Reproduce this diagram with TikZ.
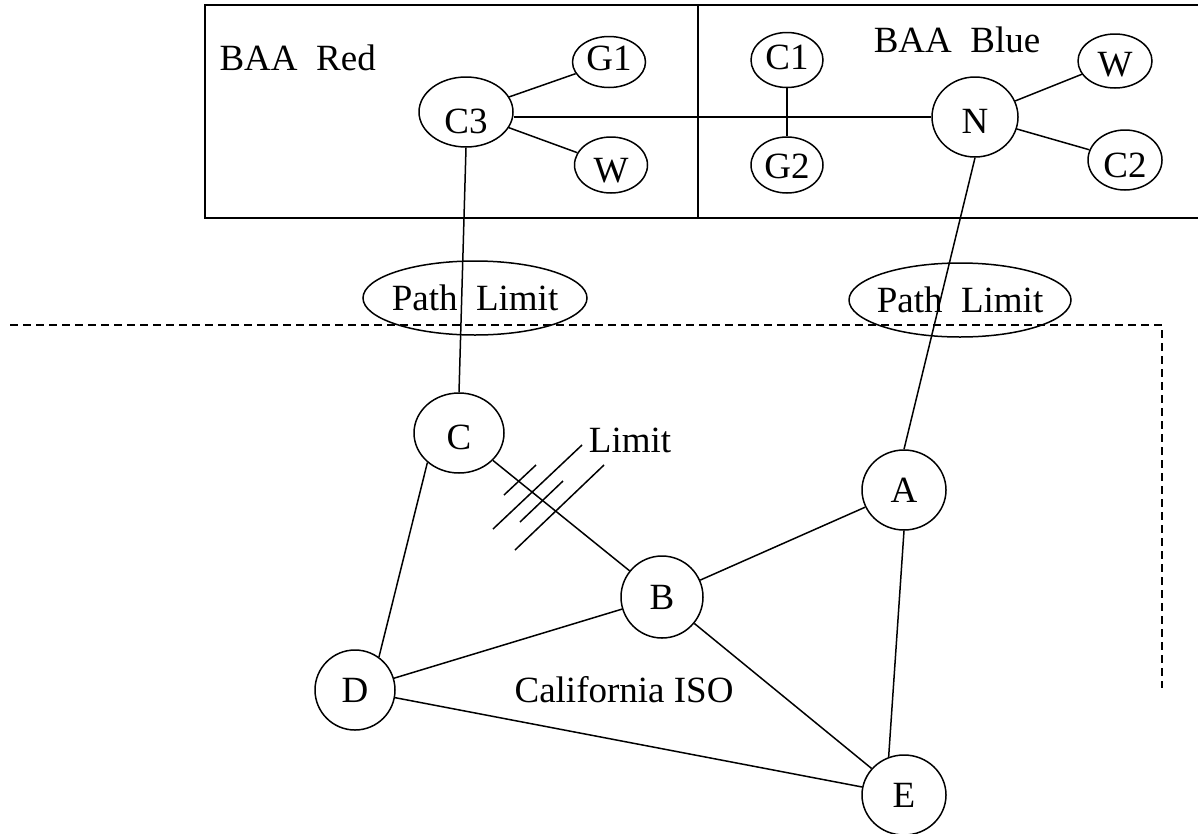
\documentclass[tikz,border=0pt]{standalone}
\usepackage{fontspec}
\setmainfont{Liberation Serif}
\usetikzlibrary{shapes.geometric}
\begin{document}
\begin{tikzpicture}[x=1pt,y=-1pt,
  every node/.style={font=\fontsize{37}{42}\selectfont},
  bus/.style 2 args={ellipse,draw,line width=1.5pt,inner sep=0pt,
    minimum width=#1pt,minimum height=#2pt},
  drop/.style={text height=#1pt,text depth=0pt},
  wire/.style={line width=1.5pt},
  border/.style={dash pattern=on 8pt off 5pt,line width=1.5pt}]
\useasboundingbox (0,0) rectangle (1198,833);

% balancing authority areas
\draw[line width=1.6pt] (205,5) rectangle (1205,218);
\draw[line width=2.2pt] (698,5) -- (698,218);
\node[anchor=west] (red) at (216,58) {BAA\ \ Red};
\node (blue) at (957,40) {BAA\ \ Blue};

% BAA Red buses
\node[bus={94}{70},drop=42.5] (C3) at (466,112) {C3};
\node[bus={73}{51},drop=16.5] (G1) at (609,62) {G1};
\node[bus={73}{56},drop=34.5] (WR) at (611,165) {W};

% BAA Blue buses
\node[bus={72}{55},drop=18.5] (C1) at (787,60) {C1};
\node[bus={72}{56},drop=26.5] (G2) at (787,165) {G2};
\node[bus={86}{80},drop=32.5] (N) at (975,117) {N};
\node[bus={74}{54},drop=30.5] (WB) at (1115,61) {W};
\node[bus={74}{60},drop=34.5] (C2) at (1125,160) {C2};

\draw[wire] (C3) -- (G1);
\draw[wire] (C3) -- (WR);
\draw[wire] (C3.east |- N.west) -- (N.west);
\draw[wire] (C1) -- (G2);
\draw[wire] (N) -- (WB);
\draw[wire] (N) -- (C2);

% interface path limits
\node[bus={224}{74},inner xsep=-8pt] (PL1) at (475,298) {Path\ \ Limit};
\node[bus={222}{74},inner xsep=-8pt] (PL2) at (960,300) {Path\ \ Limit};

% California ISO boundary
\coordinate (bl) at (10,325);
\coordinate (bc) at (1162,325);
\coordinate (br) at (1162,688);
\draw[border] (bl) -- (bc) -- (br);

% California ISO buses
\node[bus={90}{80},drop=32.5] (C) at (459,433) {C};
\node[bus={82}{82}] (B) at (662,597) {B};
\node[bus={84}{80}] (A) at (904,490) {A};
\node[bus={80}{80}] (D) at (355,690) {D};
\node[bus={84}{80}] (E) at (904,795) {E};
\node (iso) at (624,690) {California ISO};
\node (lim) at (630,440) {Limit};

\draw[wire] (C3.south) -- (C.north);
\draw[wire] (N.south) -- (A.north);
\draw[wire] (C.223) -- (D.54);
\draw[wire] (C) -- (B);
\draw[wire] (B) -- (A);
\draw[wire] (B) -- (D);
\draw[wire] (B) -- (E);
\draw[wire] (A.south) -- (E.112);
\draw[wire] (D) -- (E);

% limit hatching across C--B
\draw[wire] (504,495) -- (536,465);
\draw[wire] (493,529) -- (582,445);
\draw[wire] (520,522) -- (563,481);
\draw[wire] (515,550) -- (604,465);
\end{tikzpicture}
\end{document}
